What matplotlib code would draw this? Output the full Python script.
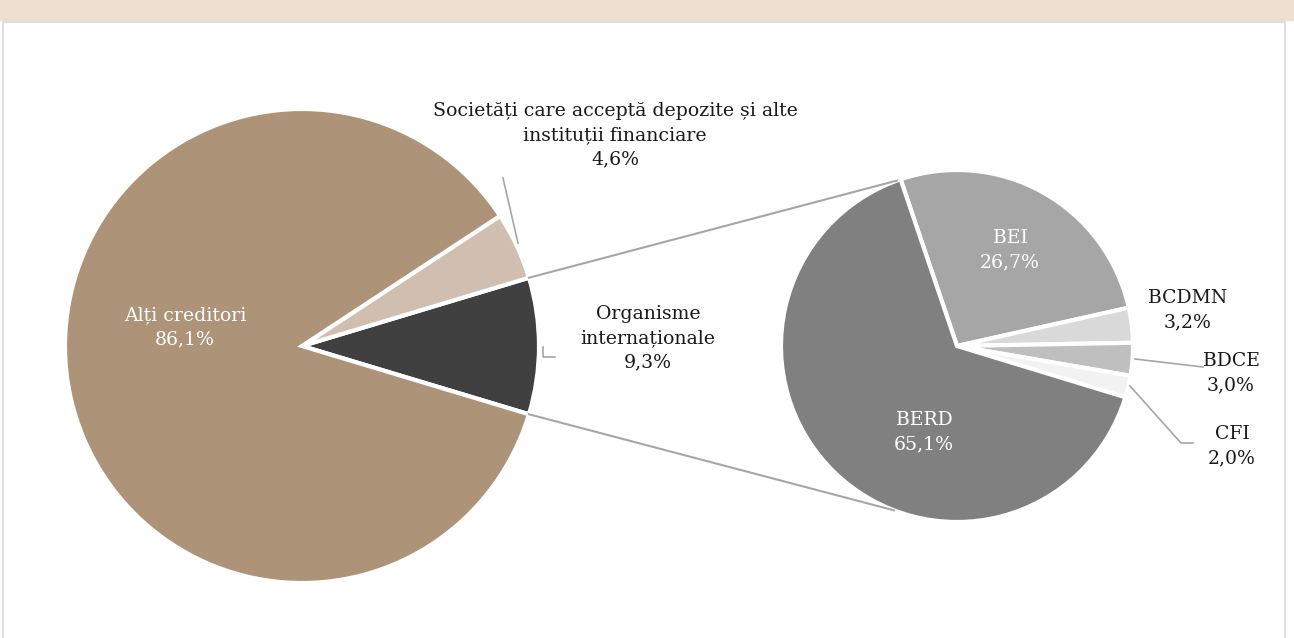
import matplotlib.pyplot as plt
import numpy as np
from matplotlib.patches import Rectangle

# main pie
main_labels = ['Organisme\ninternaționale', 'Societăți care acceptă depozite și alte\ninstituții financiare', 'Alți creditori']
main_values = [9.3, 4.6, 86.1]
main_colors = ['#404040', '#D0BFB0', '#AD9378']

# breakdown of "Organisme internaționale"
sub_labels = ['BEI', 'BCDMN', 'BDCE', 'CFI', 'BERD']
sub_values = [26.7, 3.2, 3.0, 2.0, 65.1]
sub_colors = ['#A6A6A6', '#D9D9D9', '#BFBFBF', '#F2F2F2', '#808080']

W, H = 1294, 638
fig = plt.figure(figsize=(W / 100, H / 100), dpi=100)
ax = fig.add_axes([0, 0, 1, 1])

plt.rcParams['font.family'] = ['DejaVu Serif']
txt = '#1A1A1A'
fs = 13.6
ls = 1.45

# page decoration: beige header band and bordered box
ax.add_patch(Rectangle((0, H - 20), W, 20, color='#EFDFD0', zorder=0))
ax.add_patch(Rectangle((3, -5), 1282, H - 22 + 5, facecolor='white', edgecolor='#D9D9D9', lw=1.2, zorder=0))

c1, r1 = (302, 292), 237
c2, r2 = (957, 292), 176

start1 = -main_values[0] * 3.6 / 2
ax.pie(main_values, colors=main_colors, startangle=start1, center=c1, radius=r1,
       wedgeprops=dict(edgecolor='white', linewidth=3), frame=True)
ax.pie(sub_values, colors=sub_colors, startangle=108.7, counterclock=False, center=c2, radius=r2,
       wedgeprops=dict(edgecolor='white', linewidth=3), frame=True)
ax.set_xlim(0, W)
ax.set_ylim(0, H)
ax.set_aspect('equal')
ax.axis('off')

# connector lines between pies
for a1, a2 in [(start1 + main_values[0] * 3.6, 110), (start1, -111)]:
    p1 = (c1[0] + r1 * np.cos(np.radians(a1)), c1[1] + r1 * np.sin(np.radians(a1)))
    p2 = (c2[0] + r2 * np.cos(np.radians(a2)), c2[1] + r2 * np.sin(np.radians(a2)))
    ax.plot([p1[0], p2[0]], [p1[1], p2[1]], color='#A6A6A6', lw=1.5, zorder=1)

def fmt(v):
    return f'{v:.1f}%'.replace('.', ',')

def label(x, y, s, color=txt):
    ax.text(x, H - y, s, color=color, ha='center', va='center', fontsize=fs, linespacing=ls)

label(185, 327, f'{main_labels[2]}\n{fmt(main_values[2])}', 'white')
label(615, 135, f'{main_labels[1]}\n{fmt(main_values[1])}')
label(648, 338, f'{main_labels[0]}\n{fmt(main_values[0])}')

label(1010, 250, f'{sub_labels[0]}\n{fmt(sub_values[0])}', 'white')
label(924, 432, f'{sub_labels[4]}\n{fmt(sub_values[4])}', 'white')
label(1188, 310, f'{sub_labels[1]}\n{fmt(sub_values[1])}')
label(1231, 373, f'{sub_labels[2]}\n{fmt(sub_values[2])}')
label(1232, 446, f'{sub_labels[3]}\n{fmt(sub_values[3])}')

# leader lines
lc = '#A6A6A6'
ax.plot([503, 518], [H - 178, H - 243], color=lc, lw=1.2)
ax.plot([543, 543, 555], [H - 347, H - 357, H - 357], color=lc, lw=1.2)
ax.plot([1135, 1203], [H - 359, H - 367], color=lc, lw=1.2)
ax.plot([1130, 1181, 1193], [H - 386, H - 443, H - 443], color=lc, lw=1.2)

fig.savefig('out.png', dpi=100)
